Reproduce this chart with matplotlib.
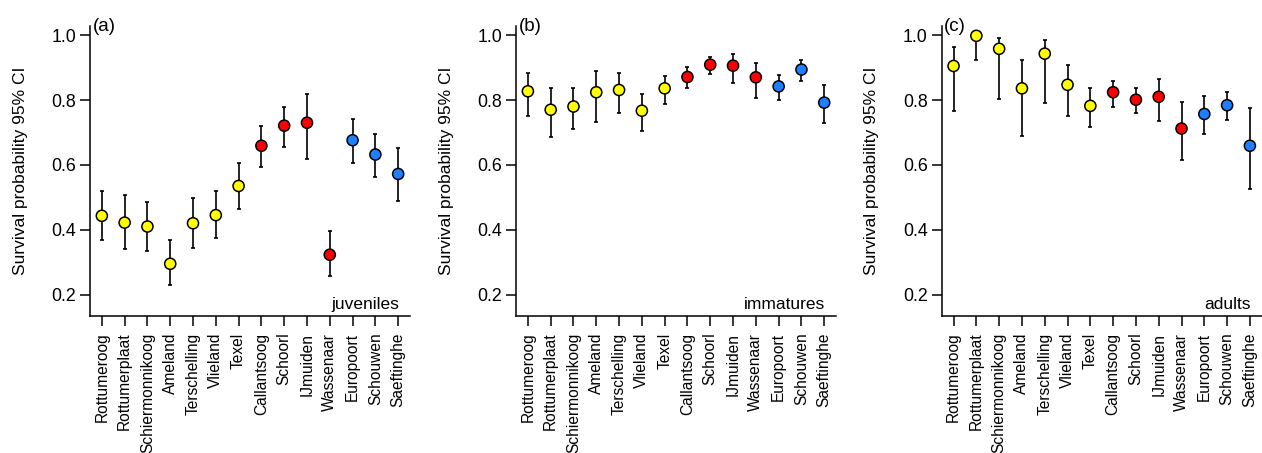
import matplotlib
matplotlib.use("Agg")
import matplotlib.pyplot as plt
import numpy as np

plt.rcParams['font.family'] = ['Liberation Sans', 'DejaVu Sans']

sites = ["Rottumeroog", "Rottumerplaat", "Schiermonnikoog", "Ameland", "Terschelling",
         "Vlieland", "Texel", "Callantsoog", "Schoorl", "IJmuiden", "Wassenaar",
         "Europoort", "Schouwen", "Saeftinghe"]
site_colors = ["#FFFF00"] * 7 + ["#FF0000"] * 4 + ["#1E7FFF"] * 3

juv_est = [0.443, 0.422, 0.410, 0.295, 0.420, 0.445, 0.535, 0.659, 0.721, 0.730, 0.323, 0.676, 0.632, 0.572]
juv_lo  = [0.367, 0.341, 0.334, 0.230, 0.344, 0.375, 0.465, 0.592, 0.656, 0.617, 0.256, 0.605, 0.562, 0.488]
juv_hi  = [0.520, 0.508, 0.486, 0.369, 0.497, 0.519, 0.605, 0.720, 0.778, 0.819, 0.396, 0.740, 0.695, 0.653]

imm_est = [0.827, 0.770, 0.780, 0.824, 0.831, 0.767, 0.836, 0.871, 0.909, 0.906, 0.870, 0.842, 0.894, 0.792]
imm_lo  = [0.750, 0.687, 0.710, 0.731, 0.759, 0.706, 0.789, 0.837, 0.879, 0.853, 0.807, 0.801, 0.859, 0.728]
imm_hi  = [0.884, 0.837, 0.837, 0.891, 0.884, 0.819, 0.874, 0.901, 0.932, 0.943, 0.914, 0.877, 0.922, 0.846]

adu_est = [0.905, 0.998, 0.958, 0.836, 0.943, 0.847, 0.782, 0.824, 0.801, 0.810, 0.712, 0.757, 0.784, 0.659]
adu_lo  = [0.766, 0.923, 0.802, 0.688, 0.790, 0.751, 0.717, 0.780, 0.760, 0.735, 0.616, 0.695, 0.739, 0.526]
adu_hi  = [0.965, 1.000, 0.992, 0.922, 0.985, 0.909, 0.836, 0.860, 0.837, 0.866, 0.793, 0.811, 0.825, 0.774]

panels = [("(a)", "juveniles", juv_est, juv_lo, juv_hi),
          ("(b)", "immatures", imm_est, imm_lo, imm_hi),
          ("(c)", "adults", adu_est, adu_lo, adu_hi)]

fig = plt.figure(figsize=(12.62, 4.53), dpi=100)
lefts = [0.0713, 0.4089, 0.7462]
width = 0.2536
bottom = 0.3024
height = 0.640

x = np.arange(1, len(sites) + 1)
for (tag, label, est, lo, hi), left in zip(panels, lefts):
    ax = fig.add_axes([left, bottom, width, height])
    est = np.array(est); lo = np.array(lo); hi = np.array(hi)
    ax.errorbar(x, est, yerr=[est - lo, hi - est], fmt='none', ecolor='black',
                elinewidth=1.2, capsize=1.6, capthick=1.2, zorder=2)
    ax.scatter(x, est, s=64, c=site_colors, edgecolors='black', linewidths=1.1, zorder=3)
    ax.set_xlim(0.48, 14.52)
    ax.set_ylim(0.134, 1.028)
    ax.set_yticks([0.2, 0.4, 0.6, 0.8, 1.0])
    ax.set_yticklabels(["0.2", "0.4", "0.6", "0.8", "1.0"])
    ax.set_xticks(x)
    ax.set_xticklabels(sites, rotation=90)
    ax.tick_params(axis='both', length=7, width=1.1, direction='out')
    ax.tick_params(axis='x', pad=5, labelsize=11.2)
    ax.tick_params(axis='y', pad=3, labelsize=12.8)
    for s in ['top', 'right']:
        ax.spines[s].set_visible(False)
    for s in ['left', 'bottom']:
        ax.spines[s].set_linewidth(1.1)
    ax.set_ylabel("Survival probability 95% CI", fontsize=12.5, labelpad=17)
    ax.text(0.008, 1.0, tag, transform=ax.transAxes, ha='left', va='center', fontsize=13.5)
    ax.text(14.05, 0.17, label, ha='right', va='center', fontsize=12.5)

fig.savefig("out.png", dpi=100)
